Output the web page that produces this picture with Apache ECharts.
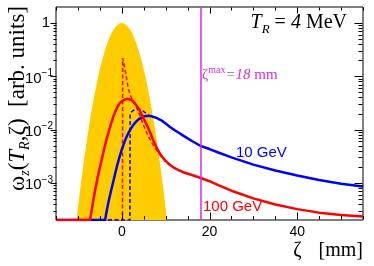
<!DOCTYPE html>
<html><head><meta charset="utf-8">
<script src="https://cdn.jsdelivr.net/npm/echarts@6/dist/echarts.min.js"></script>
<style>html,body{margin:0;padding:0;background:#fff}#c{width:374px;height:266px}</style>
</head><body><div id="c"></div>
<script>
// ---- axis ranges / ticks ----
const xMin = -15, xMax = 55, xTickStep = 5;
const xMajorTicks = [0, 20, 40];
const yMin = 2e-4, yMax = 2;
const yDecades = [-3, -2, -1, 0];
const yMinorMult = [2, 3, 4, 5, 6, 7, 8, 9];

// ---- bunch profile (yellow) ----
const bunchZeta = [-10.3,-10,-9.5,-9,-8.5,-8,-7.5,-7,-6.5,-6,-5.5,-5,-4.5,-4,-3.5,-3,-2.5,-2,-1.5,-1,-0.5,0,0.5,1,1.5,2,2.5,3,3.5,4,4.5,5,5.5,6,6.5,7,7.5,8,8.5,9,9.5,10,10.3];
const bunchVal  = [2e-4,3.35e-4,7.3e-4,1.53e-3,3.1e-3,5.98e-3,0.0111,0.0198,0.034,0.0561,0.089,0.135,0.198,0.278,0.375,0.487,0.607,0.726,0.835,0.923,0.98,1,0.98,0.923,0.835,0.726,0.607,0.487,0.375,0.278,0.198,0.135,0.089,0.0561,0.034,0.0198,0.0111,5.98e-3,3.1e-3,1.53e-3,7.3e-4,3.35e-4,2e-4];

// ---- 100 GeV (red) ----
const zeta100 = [-15,-7.3,-7,-6.5,-6,-5.5,-5,-4.5,-4,-3.5,-3,-2.5,-2,-1.5,-1,-0.5,0,0.5,1,1.5,2,2.5,3,3.5,4,4.5,5,5.5,6,6.5,7,7.5,8,8.5,9,10,11,12,13,14,16,18,20,22,25,30,35,40,45,50,55];
const val100  = [2e-4,2e-4,2.6e-4,4.6e-4,7.8e-4,1.25e-3,1.95e-3,2.9e-3,4.4e-3,6.4e-3,9.0e-3,0.0125,0.0168,0.0215,0.0265,0.031,0.034,0.036,0.0373,0.0375,0.0365,0.0345,0.031,0.027,0.0235,0.0195,0.016,0.0132,0.0108,0.0087,0.0068,0.0055,0.00447,0.00376,0.00324,0.00257,0.00216,0.0019,0.00172,0.00158,0.0014,0.00123,0.00107,0.0009,0.00071,0.00051,0.00039,0.00032,0.000275,0.000248,0.000232];
const zeta100d = [-15,0.15,0.2,0.5,1,1.5,2,2.7,3.5,4,5,6,7,8,9,10,11,12,13,14,16];
const val100d  = [2e-4,2e-4,0.22,0.17,0.1,0.058,0.043,0.032,0.025,0.0195,0.0118,0.0076,0.0054,0.004,0.0031,0.0025,0.00212,0.00188,0.00171,0.00157,0.0014];

// ---- 10 GeV (blue) ----
const zeta10 = [-15,-3.8,-3.5,-3,-2.5,-2,-1.5,-1,-0.5,0,0.5,1,1.5,2,2.5,3,3.5,4,4.5,5,5.5,6,6.5,7,7.5,8,9,10,11,12,13,14,16,18,20,22,25,30,35,40,45,50,55];
const val10  = [2e-4,2e-4,2.8e-4,4.5e-4,6.8e-4,1.0e-3,1.5e-3,2.2e-3,3.1e-3,4.2e-3,5.5e-3,7.0e-3,8.6e-3,0.0102,0.0118,0.0133,0.0147,0.0159,0.0168,0.0175,0.0179,0.018,0.0179,0.0175,0.017,0.0164,0.0149,0.013,0.0112,0.0098,0.0087,0.0077,0.0061,0.0049,0.0043,0.0037,0.003,0.00219,0.0017,0.00137,0.00113,0.00096,0.00085];
const zeta10d = [-15,1.85,1.9,2.5,3,3.5,4,4.5,5,5.5,6,6.5,7,7.5,8,9,10];
const val10d  = [2e-4,2e-4,0.02,0.0225,0.0238,0.0243,0.0242,0.0234,0.0218,0.0201,0.0189,0.0181,0.0176,0.0171,0.0165,0.015,0.0131];

const zetaMax = [18];

const pairs = (xs, ys) => xs.map((x, i) => [x, ys[i]]);

const chart = echarts.init(document.getElementById('c'), null, {renderer: 'canvas'});
const SANS = 'Liberation Sans, Arial, sans-serif';
const SERIF = 'Liberation Serif, Times New Roman, serif';
const MAG = '#d42be8';

const grid = {left: 56, right: 11, top: 7, bottom: 46};

chart.setOption({
  animation: false,
  backgroundColor: '#fff',
  grid: Object.assign({show: true, borderColor: '#000', borderWidth: 1, backgroundColor: 'transparent'}, grid),
  xAxis: {
    type: 'value', min: xMin, max: xMax, interval: xTickStep,
    axisLine: {show: false}, axisTick: {show: false}, splitLine: {show: false},
    axisLabel: {
      margin: 5, fontFamily: SANS, fontSize: 14, color: '#000',
      formatter: v => xMajorTicks.includes(v) ? String(v) : ''
    }
  },
  yAxis: {
    type: 'log', logBase: 10, min: yMin, max: yMax, splitNumber: 4,
    axisLine: {show: false}, axisTick: {show: false}, splitLine: {show: false},
    axisLabel: {
      margin: 3, color: '#000',
      formatter: v => {
        const e = Math.log10(v);
        const n = Math.round(e);
        if (Math.abs(e - n) > 1e-6) return '';
        if (n === 0) return '{one|1}';
        return '{b|10}{s|' + (n < 0 ? '\u2212' : '') + Math.abs(n) + '}';
      },
      rich: {
        one: {fontFamily: SANS, fontSize: 15, color: '#000', padding: [0, 3, 0, 0]},
        b: {fontFamily: SANS, fontSize: 15, lineHeight: 15, color: '#000', padding: [5, 0, 0, 0]},
        s: {fontFamily: SANS, fontSize: 10, lineHeight: 10, color: '#000', padding: [2, 0, 8, 0]}
      }
    }
  },
  series: [
    {
      name: 'bunch', type: 'line', data: pairs(bunchZeta, bunchVal), showSymbol: false,
      lineStyle: {width: 0, color: '#ffcc00'}, itemStyle: {color: '#ffcc00'},
      areaStyle: {color: '#ffcc00', opacity: 1, origin: 'start'}, z: 1
    },
    {
      name: '100 GeV dashed', type: 'line', data: pairs(zeta100d, val100d), showSymbol: false,
      lineStyle: {width: 1.5, color: '#ff0000', type: [4, 2.5]}, z: 2
    },
    {
      name: '10 GeV dashed', type: 'line', data: pairs(zeta10d, val10d), showSymbol: false,
      lineStyle: {width: 1.5, color: '#0000ff', type: [4, 2.5]}, z: 2
    },
    {
      name: '10 GeV', type: 'line', data: pairs(zeta10, val10), showSymbol: false,
      lineStyle: {width: 2.5, color: '#0000ff'}, z: 3
    },
    {
      name: '100 GeV', type: 'line', data: pairs(zeta100, val100), showSymbol: false,
      lineStyle: {width: 2.5, color: '#ff0000'}, z: 4
    },
    {
      name: 'zeta max', type: 'line', data: [], showSymbol: false,
      markLine: {
        silent: true, symbol: ['none', 'none'], label: {show: false},
        lineStyle: {color: MAG, width: 1.5, type: 'solid'},
        data: zetaMax.map(z => ({xAxis: z}))
      }, z: 5
    }
  ]
});

function buildGraphics() {
  const g = [];
  const X = v => chart.convertToPixel({xAxisIndex: 0}, v);
  const Y = v => chart.convertToPixel({yAxisIndex: 0}, v);
  const top = Math.round(Y(yMax)) + 0.5, bottom = Math.round(Y(yMin)) - 0.5;
  const left = Math.round(X(xMin)) + 0.5, right = Math.round(X(xMax)) - 0.5;
  const tl = (x1, y1, x2, y2) => g.push({type: 'line', silent: true, z: 10,
    shape: {x1, y1, x2, y2}, style: {stroke: '#000', lineWidth: 1}});
  for (let v = xMin; v <= xMax; v += xTickStep) {
    const px = Math.round(X(v)) + 0.5;
    const major = xMajorTicks.includes(v);
    tl(px, bottom, px, bottom - (major ? 7 : 3.5));
    tl(px, top, px, top + (major ? 6 : 3));
  }
  yDecades.forEach(d => {
    const py = Math.round(Y(Math.pow(10, d))) + 0.5;
    tl(left, py, left - 6, py);
    tl(right, py, right - 8, py);
  });
  for (let d = -4; d <= 0; d++) {
    yMinorMult.forEach(m => {
      const val = m * Math.pow(10, d);
      if (val <= yMin || val >= yMax) return;
      const py = Math.round(Y(val)) + 0.5;
      tl(left, py, left - 3, py);
      tl(right, py, right - 4, py);
    });
  }
  // texts
  g.push({type: 'text', x: 347, y: 25, z: 10, style: {
    text: '{it|T}{sub|R}{n| = }{it|4}{n| MeV}', align: 'right', verticalAlign: 'middle',
    rich: {
      it: {fontFamily: SERIF, fontStyle: 'italic', fontSize: 20, fill: '#000', padding: [0, 0, 5, 0]},
      sub: {fontFamily: SERIF, fontStyle: 'italic', fontSize: 13, fill: '#000', padding: [9, 0, 0, 0]},
      n: {fontFamily: SERIF, fontSize: 20, fill: '#000', padding: [0, 0, 5, 0]}
    }
  }});
  g.push({type: 'text', x: 202, y: 74, z: 10, style: {
    text: '{z|\u03b6}{sup|max}{it|=18}{n| mm}', align: 'left', verticalAlign: 'middle',
    rich: {
      z: {fontFamily: SERIF, fontSize: 15, fill: MAG, padding: [3, 0, 0, 0]},
      sup: {fontFamily: SERIF, fontSize: 10, fill: MAG, padding: [0, 0, 8, 0]},
      it: {fontFamily: SERIF, fontStyle: 'italic', fontSize: 15, fill: MAG, padding: [3, 0, 0, 0]},
      n: {fontFamily: SERIF, fontSize: 15, fill: MAG, padding: [3, 0, 0, 0]}
    }
  }});
  g.push({type: 'text', x: 236, y: 152.5, z: 10, style: {
    text: '10 GeV', fontFamily: SANS, fontSize: 15, fill: '#0000ff', align: 'left', verticalAlign: 'middle'}});
  g.push({type: 'text', x: 203, y: 207, z: 10, style: {
    text: '100 GeV', fontFamily: SANS, fontSize: 15, fill: '#ff0000', align: 'left', verticalAlign: 'middle'}});
  g.push({type: 'text', x: 363, y: 251, z: 10, style: {
    text: '{z|\u03b6}{n|[mm]}', align: 'right', verticalAlign: 'middle',
    rich: {
      z: {fontFamily: SERIF, fontSize: 20, fill: '#000', padding: [0, 17, 0, 0]},
      n: {fontFamily: SERIF, fontSize: 20, fill: '#000'}
    }
  }});
  g.push({type: 'text', x: 20, y: 6, rotation: Math.PI / 2, z: 10, style: {
    text: '{w|\u03c9}{sub|z}{w|(}{it|T}{sub|R}{w|,\u03b6)  [arb. units]}',
    align: 'right', verticalAlign: 'middle',
    rich: {
      w: {fontFamily: SERIF, fontSize: 23, fill: '#000', padding: [0, 0, 4, 0]},
      it: {fontFamily: SERIF, fontStyle: 'italic', fontSize: 23, fill: '#000', padding: [0, 0, 4, 0]},
      sub: {fontFamily: SERIF, fontStyle: 'italic', fontSize: 14, fill: '#000', padding: [10, 0, 0, 0]}
    }
  }});
  return g;
}
chart.setOption({graphic: buildGraphics()});
</script>
</body></html>
